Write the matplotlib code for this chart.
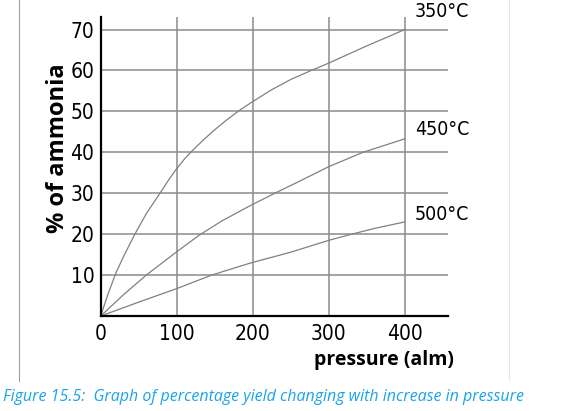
import matplotlib
matplotlib.use('Agg')
import matplotlib.pyplot as plt
from matplotlib.lines import Line2D

cond = dict(family='DejaVu Sans', stretch='condensed')

# values
p_350 = [0, 10, 20, 30, 45, 60, 78, 90, 100, 110, 120, 135, 150, 165, 183, 200,
         225, 250, 277, 300, 325, 350, 375, 400]
y_350 = [0, 5.5, 10.5, 14.5, 20, 25, 30, 33.4, 36, 38.3, 40.3, 43, 45.5, 47.8, 50.3, 52.4,
         55.3, 57.8, 60, 61.8, 63.9, 66, 68, 70]
p_450 = [0, 30, 60, 100, 130, 160, 196, 229, 260, 300, 345, 400]
y_450 = [0, 5.2, 10, 15.7, 19.8, 23.3, 26.9, 30, 32.8, 36.5, 40, 43.3]
p_500 = [0, 50, 100, 146, 196, 250, 300, 328, 360, 400]
y_500 = [0, 3.4, 6.7, 10, 12.9, 15.6, 18.5, 19.9, 21.4, 23]
labels = ['350\u00b0C', '450\u00b0C', '500\u00b0C']
label_y = [74.3, 45.5, 24.7]

fig = plt.figure(figsize=(5.85, 4.11), dpi=100)
ax = fig.add_axes([0.172, 0.231, 0.594, 0.727])

for p, y in [(p_350, y_350), (p_450, y_450), (p_500, y_500)]:
    ax.plot(p, y, color='#808080', lw=0.9)

for lab, ly in zip(labels, label_y):
    ax.text(413, ly, lab, fontsize=14, va='center', ha='left', clip_on=False, **cond)

ax.set_xlim(0, 457)
ax.set_ylim(0, 73)
ax.set_xticks([0, 100, 200, 300, 400])
ax.set_yticks([10, 20, 30, 40, 50, 60, 70])
ax.grid(True, color='#8c8c8c', lw=1.1)
ax.set_axisbelow(True)
ax.tick_params(length=0, labelsize=15)
ax.tick_params(axis='x', pad=6)
ax.tick_params(axis='y', pad=4.5)
for t in ax.get_xticklabels() + ax.get_yticklabels():
    t.set_family(cond['family'])
    t.set_stretch(cond['stretch'])

for s in ['top', 'right']:
    ax.spines[s].set_visible(False)
for s in ['left', 'bottom']:
    ax.spines[s].set_linewidth(1.6)
    ax.spines[s].set_color('black')

fig.text(0.657, 0.124, 'pressure (alm)', fontsize=14, fontweight='bold',
         family=['Open Sans', 'DejaVu Sans'], ha='center', va='center')
fig.text(0.1, 0.64, '% of ammonia', fontsize=17, fontweight='bold', rotation=90,
         family=['Open Sans', 'DejaVu Sans'], ha='center', va='center')
fig.text(0.005, 0.035, 'Figure 15.5:  Graph of percentage yield changing with increase in pressure',
         fontsize=11.5, style='italic', color='#1aa3e8',
         family=['Open Sans', 'DejaVu Sans'], ha='left', va='center')

fig.add_artist(Line2D([19 / 585, 19 / 585], [1, 1 - 381 / 411], color='#a0a0a0', lw=0.8))
fig.add_artist(Line2D([509 / 585, 509 / 585], [1, 1 - 380 / 411], color='#e6e6e6', lw=0.8))

fig.savefig('out.png', dpi=100)
